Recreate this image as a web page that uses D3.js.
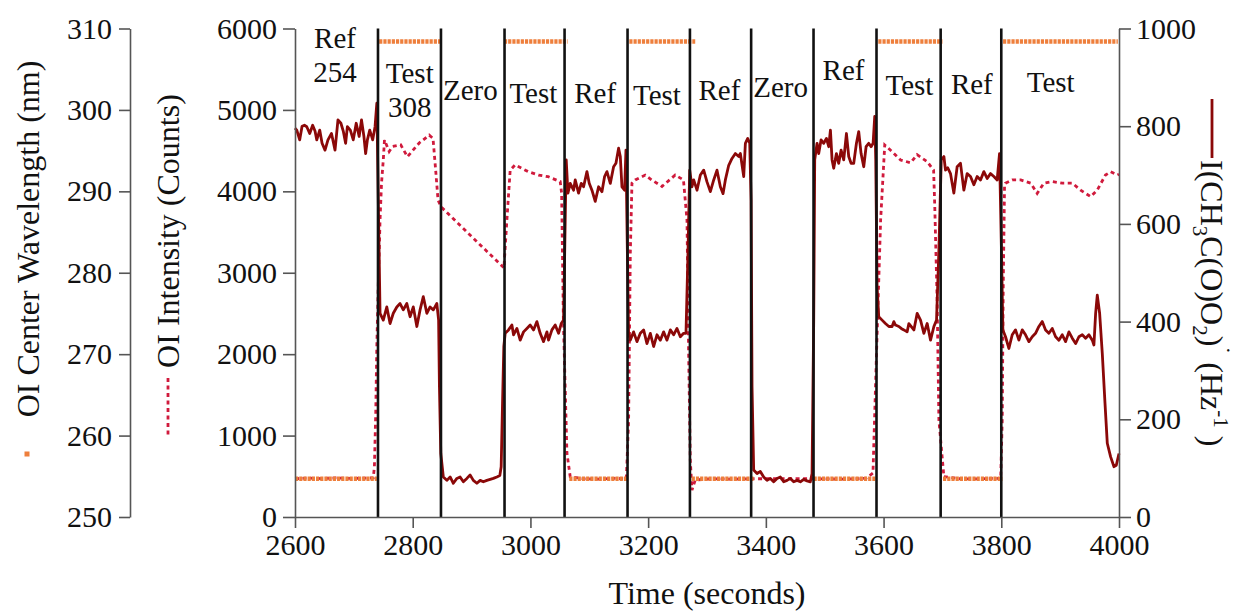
<!DOCTYPE html>
<html>
<head>
<meta charset="utf-8">
<script src="https://cdn.jsdelivr.net/npm/d3@7"></script>
<style>
  body { margin: 0; background: #fff; }
  svg text { font-family: "Liberation Serif", "Times New Roman", serif; fill: #111; }
</style>
</head>
<body>
<div id="chart"></div>
<script>
// CH3C(O)O2 radical signal (Hz^-1), right axis
var radTime = [2600,2603,2608,2612,2616,2620,2625,2630,2634,2637,2642,2646,2651,2656,2662,2668,2673,2678,2682,2686,2689,2694,2699,2704,2709,2713,2717,2720,2723,2727,2732,2736,2739,
  2744.5,2750,2756,2761.5,2767,2773,2778.5,2784,2790,2795.5,2801,2807,2812.5,2818,2824,2829.5,2835,2841,2844,2845.4,2847.7,2852,
  2858,2863.6,2869,2875,2880.5,2886,2892,2897.5,2903,2909,2914.6,2920,2926,2931.6,2937,2943,2948,2950.3,2952.6,2954.8,2957.1,
  2962.8,2968.5,2971.3,2977,2982.6,2988.3,2994,2999.6,3005.3,3011,3016.6,3022.3,3028,3030.8,3036.5,3042.1,3047.8,3052.3,3056.3,3059.1,3060.8,
  3063.7,3067.6,3073.3,3076.1,3081.8,3086.3,3090.3,3096,3099.9,3104.5,3110.1,3115.8,3121.5,3126,3130,3135.7,3141.3,3145.3,3149.8,3152.7,3155.5,3160,3162.3,3164.5,3166.8,
  3169.6,3175.3,3181,3186.7,3192.3,3198,3203.7,3209.3,3215,3220.7,3226.3,3232,3237.7,3243.3,3249,3254.7,3260.3,3264.3,3267.7,3270.6,
  3274.5,3277.4,3283,3288.7,3294.4,3300,3305.7,3311.4,3317,3322.7,3327.3,3331.2,3336.9,3342.5,3348.2,3353.9,3356.7,3362.4,3365.2,3369.2,3372.6,3374.9,3376.5,3379.3,
  3385,3390.6,3396.3,3402,3407.6,3413.3,3419,3424.6,3430.3,3436,3441.6,3447.3,3453,3458.6,3464.3,3470,3475.6,3478.5,3481.3,3483,
  3487,3489.8,3493.8,3498.3,3502.9,3506.8,3509.7,3512.5,3515.3,3519.9,3523.8,3527.8,3532.3,3536.9,3540.8,3544.8,3549.3,3553.9,3557.8,3561.8,3566.3,3570.3,3574.8,3578.8,3582.2,3585,3586.7,3589,3591.8,
  3597.5,3603.2,3609,3614.5,3617.4,3620.2,3626,3630,3634.5,3640,3643,3651.5,3657.1,3662.8,3668.5,3674.1,3679.8,3685.5,3690,3694,3698,
  3702.5,3705.2,3709,3713.7,3719.4,3725,3730.7,3736.4,3742,3747.7,3753.4,3759,3764.7,3770.4,3776,3781.7,3787.4,3793,3797,3800.4,3802.7,
  3807.2,3812.9,3818.6,3824.2,3829.9,3835.6,3841.2,3846.9,3852.6,3858.2,3863.9,3869.6,3875.2,3880.9,3886.6,3892.3,3897.9,3903.6,3909.3,3914.9,3920.6,3926.3,3931.9,3937.6,3943.3,3948.9,3954.6,3957.4,3960.3,3963.1,3967.1,3971.6,3976.2,3980.1,3985.8,3991.5,3995.4,4000];
var radHz = [796,792,772,800,802,799,785,802,790,772,792,765,751,772,785,751,813,806,790,765,799,792,772,806,779,813,780,744,772,792,772,799,847,
  417,403,430,396,417,430,437,424,437,410,430,390,424,451,417,430,424,437,403,267,130,82,
  75,82,69,79,82,72,79,86,75,69,75,72,75,77,79,82,85,103,233,349,376,
  383,393,373,386,362,379,386,393,383,400,376,359,379,362,383,393,376,396,403,608,731,
  663,683,669,690,663,683,676,707,683,669,646,676,666,697,707,683,717,724,755,738,676,669,751,560,376,
  362,379,359,376,383,355,376,349,373,362,379,362,383,373,386,369,376,376,540,710,
  676,690,669,700,710,686,666,690,710,676,662,690,720,734,744,738,744,697,765,775,765,649,267,96,
  89,93,82,75,79,72,79,82,72,75,79,72,75,72,77,74,72,89,403,731,
  765,744,772,765,775,758,792,731,714,744,724,751,731,785,738,724,724,765,789,744,717,758,765,758,765,820,731,471,410,
  403,396,390,390,400,393,390,386,383,379,396,383,417,403,376,396,362,390,403,546,731,
  738,710,715,703,663,717,724,669,703,697,680,697,690,707,693,703,697,690,744,540,383,
  369,345,373,383,362,383,373,359,369,376,390,400,383,376,386,369,362,373,359,379,366,355,369,373,366,373,362,352,417,454,417,335,233,151,123,103,106,130];

// OI intensity (Counts), left axis, dotted line
var oiTime = [2600,2620,2645,2670,2695,2720,2733,2734.9,2737.2,2739,2741.7,2744.5,2747,2750,2752,2760,2765.6,2779.7,2791,2811,2828,2834.5,2839,2843,2848,
  2955,2960,2965.6,2974,2996.7,3013.7,3030,3050.6,3053,3056,3062,3067.6,3090,3115,3140,3163,3166.8,3169.7,3172.5,3178,3195,3206,3223.5,3246,3260,3266,3268.8,3271.6,3274.5,3280,3310,3345,3375,
  3481,3530,3570,3582,3588,3595,3602,3617,3629,3646,3657,3674,3685,3687,3691,3694,3702.5,3730,3760,3790,3799,3801.6,3803.3,3805.5,
  3807,3818.6,3833,3850,3861,3872.4,3886.7,3903.7,3920.7,3934.8,3951.8,3963,3977,3985.8,3997,4000];
var oiCounts = [470,478,472,480,474,478,480,618,1278,2092,2911,3650,4100,4385,4630,4490,4550,4570,4425,4594,4690,4650,4260,3894,3810,
  3060,3650,4260,4325,4240,4200,4180,4120,3980,2420,786,495,470,465,475,470,1190,3240,4100,4140,4200,4140,4060,4200,4140,3650,2010,700,330,455,470,465,470,
  470,465,475,540,2010,3650,4570,4470,4385,4350,4450,4365,4260,3810,2670,1190,495,470,468,475,470,1190,2830,4060,
  4100,4140,4140,4100,3975,4100,4120,4100,4100,4015,3935,4015,4200,4240,4200,4210];

// OI center wavelength (nm), far left axis, one value per sampled period
var wlStart = [2600, 2743, 2955, 3066, 3168, 3274, 3481, 3591, 3701, 3803];
var wlEnd   = [2739, 2847, 3063, 3164, 3280, 3379, 3586, 3700, 3802, 3998];
var wlNm    = [254.7, 308.4, 308.4, 254.7, 308.4, 254.7, 254.7, 308.4, 254.7, 308.4];

// valve switching times and period labels
var switchTimes = [2741, 2848, 2956, 3058, 3165, 3271, 3375, 3481, 3588, 3697, 3800];
var periodText = [["Ref", "254"], ["Test", "308"], ["Zero"], ["Test"], ["Ref"], ["Test"], ["Ref"], ["Zero"], ["Ref"], ["Test"], ["Ref"], ["Test"]];
var periodMid  = [2668, 2795, 2898, 3005, 3110, 3215, 3321, 3425, 3532, 3644, 3750, 3884];
var periodBase = [5762, 5332, 5123, 5086, 5086, 5061, 5123, 5160, 5369, 5184, 5197, 5221];

var xTicks = [2600, 2800, 3000, 3200, 3400, 3600, 3800, 4000];
var countTicks = [0, 1000, 2000, 3000, 4000, 5000, 6000];
var hzTicks = [0, 200, 400, 600, 800, 1000];
var nmTicks = [250, 260, 270, 280, 290, 300, 310];

var W = 1241, H = 612;
var plotLeft = 295, plotRight = 1119, plotTop = 28.5, plotBottom = 517;

var svg = d3.select("#chart")
            .append("svg")
            .attr("width", W)
            .attr("height", H);

// Escalas
var x = d3.scaleLinear().domain([2600, 4000]).range([plotLeft, plotRight]);
var yCounts = d3.scaleLinear().domain([0, 6000]).range([plotBottom, plotTop]);
var yHz = d3.scaleLinear().domain([0, 1000]).range([plotBottom, plotTop]);
var yNm = d3.scaleLinear().domain([250, 310]).range([plotBottom, plotTop]);

// dotted OI intensity
var oiData = oiTime.map(function(t, i) { return [t, oiCounts[i]]; });
svg.append("path")
   .datum(oiData)
   .attr("fill", "none")
   .attr("stroke", "#d01a3c")
   .attr("stroke-width", 2.8)
   .attr("stroke-dasharray", "4,3.5")
   .attr("d", d3.line()
      .x(function(d) { return x(d[0]); })
      .y(function(d) { return yCounts(d[1]); }));

// wavelength markers (dense square markers -> dashed stroke)
svg.selectAll(".wl")
   .data(wlNm)
   .enter()
   .append("line")
   .attr("class", "wl")
   .attr("x1", function(d, i) { return x(wlStart[i]); })
   .attr("x2", function(d, i) { return x(wlEnd[i]); })
   .attr("y1", function(d) { return yNm(d); })
   .attr("y2", function(d) { return yNm(d); })
   .attr("stroke", "#ee7f3c")
   .attr("stroke-width", 4.5)
   .attr("stroke-dasharray", "3.2,1");

// radical signal
var radData = radTime.map(function(t, i) { return [t, radHz[i]]; });
svg.append("path")
   .datum(radData)
   .attr("fill", "none")
   .attr("stroke", "#8b0808")
   .attr("stroke-width", 2.8)
   .attr("stroke-linejoin", "round")
   .attr("d", d3.line()
      .x(function(d) { return x(d[0]); })
      .y(function(d) { return yHz(d[1]); }));

// valve switches
svg.selectAll(".switch")
   .data(switchTimes)
   .enter()
   .append("line")
   .attr("class", "switch")
   .attr("x1", function(d) { return x(d); })
   .attr("x2", function(d) { return x(d); })
   .attr("y1", yCounts(6000))
   .attr("y2", yCounts(0))
   .attr("stroke", "#111")
   .attr("stroke-width", 2.6);

// period labels
var lab = svg.selectAll(".period")
   .data(periodText)
   .enter()
   .append("text")
   .attr("class", "period")
   .attr("text-anchor", "middle")
   .style("font-size", "29px");
lab.each(function(d, i) {
   var t = d3.select(this);
   d.forEach(function(s, k) {
      t.append("tspan")
       .attr("x", x(periodMid[i]))
       .attr("y", yCounts(periodBase[i]) + k * 34)
       .text(s);
   });
});

// Eixos
function styleAxis(g) {
   g.selectAll(".domain").attr("stroke", "#555").attr("stroke-width", 1.6);
   g.selectAll(".tick line").attr("stroke", "#555").attr("stroke-width", 1.6);
   g.selectAll("text").style("font-size", "30px").attr("fill", "#111")
    .style("font-family", "'Liberation Serif', 'Times New Roman', serif");
}

svg.append("g")
   .attr("transform", "translate(0," + plotBottom + ")")
   .call(d3.axisBottom(x).tickValues(xTicks).tickFormat(d3.format("d")).tickSize(11).tickSizeOuter(0).tickPadding(6))
   .call(styleAxis);

svg.append("g")
   .attr("transform", "translate(" + plotLeft + ",0)")
   .call(d3.axisLeft(yCounts).tickValues(countTicks).tickFormat(d3.format("d")).tickSize(12).tickSizeOuter(0).tickPadding(6))
   .call(styleAxis);

svg.append("g")
   .attr("transform", "translate(" + plotRight + ",0)")
   .call(d3.axisRight(yHz).tickValues(hzTicks).tickFormat(d3.format("d")).tickSize(12).tickSizeOuter(0).tickPadding(5))
   .call(styleAxis);

svg.append("g")
   .attr("transform", "translate(130,0)")
   .call(d3.axisLeft(yNm).tickValues(nmTicks).tickFormat(d3.format("d")).tickSize(11).tickSizeOuter(0).tickPadding(7))
   .call(styleAxis);

// Rótulos
svg.append("text")
   .attr("x", (plotLeft + plotRight) / 2)
   .attr("y", 604)
   .attr("text-anchor", "middle")
   .style("font-size", "32px")
   .text("Time (seconds)");

svg.append("text")
   .attr("transform", "translate(39,239) rotate(-90)")
   .attr("text-anchor", "middle")
   .style("font-size", "32px")
   .attr("fill", "#333")
   .text("OI Center Wavelength (nm)");

svg.append("rect")
   .attr("x", 24.5)
   .attr("y", 451.5)
   .attr("width", 5)
   .attr("height", 5)
   .attr("fill", "#ee7f3c");

svg.append("text")
   .attr("transform", "translate(179,231) rotate(-90)")
   .attr("text-anchor", "middle")
   .style("font-size", "32px")
   .attr("fill", "#333")
   .text("OI Intensity (Counts)");

svg.append("line")
   .attr("x1", 168).attr("x2", 168)
   .attr("y1", 378).attr("y2", 436)
   .attr("stroke", "#d01a3c")
   .attr("stroke-width", 2.8)
   .attr("stroke-dasharray", "4,3.5");

svg.append("line")
   .attr("x1", 1212).attr("x2", 1212)
   .attr("y1", 99).attr("y2", 158)
   .attr("stroke", "#8b0808")
   .attr("stroke-width", 2.8);

var rt = svg.append("text")
   .attr("transform", "translate(1201,160) rotate(90)")
   .style("font-size", "32px")
   .attr("fill", "#333");
rt.append("tspan").text("I(CH");
rt.append("tspan").attr("dy", 8).style("font-size", "21px").text("3");
rt.append("tspan").attr("dy", -8).text("C(O)O");
rt.append("tspan").attr("dy", 8).style("font-size", "21px").text("2");
rt.append("tspan").attr("dy", -8).text(")");
rt.append("tspan").attr("dy", -13).style("font-size", "24px").text("\u02D9");
rt.append("tspan").attr("dy", 13).text(" (Hz");
rt.append("tspan").attr("dy", -13).style("font-size", "21px").text("-1");
rt.append("tspan").attr("dy", 13).text(" )");
</script>
</body>
</html>
